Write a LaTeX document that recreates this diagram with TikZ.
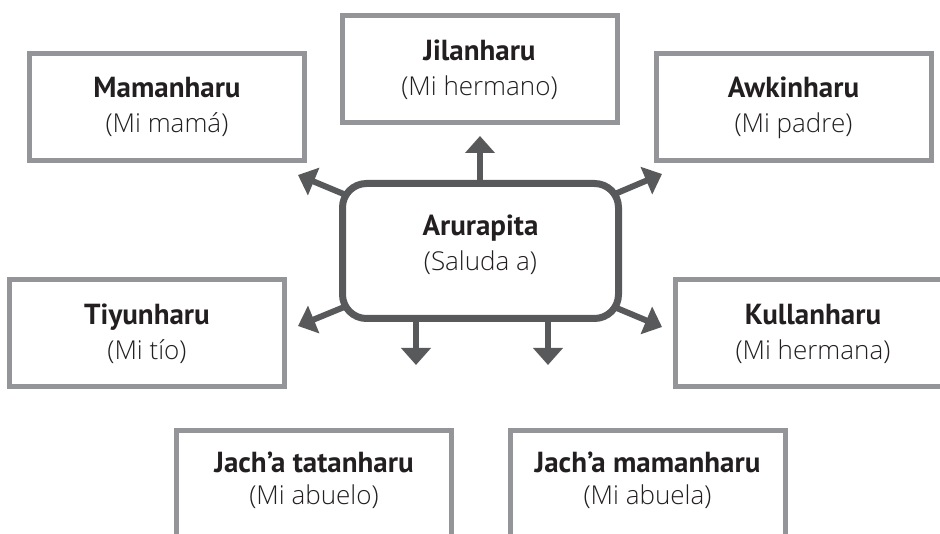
\documentclass[tikz,border=0pt]{standalone}
\usepackage{fontspec}
\setmainfont{PT Sans}
\IfFontExistsTF{Open Sans Light}{\newfontfamily\lightfont{Open Sans Light}}{%
  \IfFontExistsTF{Lato Light}{\newfontfamily\lightfont{Lato Light}}{%
    \newfontfamily\lightfont{PT Sans}}}
\usetikzlibrary{arrows.meta,backgrounds}
\definecolor{boxgray}{RGB}{147,149,152}
\definecolor{hubgray}{RGB}{88,89,91}
\definecolor{txt}{RGB}{35,31,32}
\newcommand\subtxt[1]{{\lightfont\fontsize{26}{35}\selectfont #1}}
\begin{document}
\begin{tikzpicture}[x=1pt,y=-1pt,
  box/.style={draw=boxgray, line width=5pt, fill=white, minimum width=275pt,
    minimum height=107pt, align=center, inner sep=0pt, text=txt,
    font=\fontsize{29}{35}\selectfont},
  hub/.style={draw=hubgray, line width=7pt, fill=white, rounded corners=24pt,
    minimum width=276pt, minimum height=135pt, align=center, inner sep=0pt,
    text=txt, font=\fontsize{29}{35}\selectfont, text depth=17pt},
  arr/.style={draw=hubgray, line width=6pt, -{Triangle[width=29pt,length=17pt]}},
  ]
\useasboundingbox (0,0) rectangle (940,534);
\clip (0,0) rectangle (940,534);
% tips of the arrows
\coordinate (tUL) at (298,175);
\coordinate (tUR) at (662,174);
\coordinate (tLL) at (298,326);
\coordinate (tLR) at (662,327);
\coordinate (tU) at (480,136);
\coordinate (tD1) at (416,365);
\coordinate (tD2) at (548,365);
% boxes
\node[box] (mam) at (167,107) {\textbf{Mamanharu}\\\subtxt{(Mi mamá)}};
\node[box] (jil) at (479.5,69.5) {\textbf{Jilanharu}\\\subtxt{(Mi hermano)}};
\node[box] (awk) at (793.5,107.5) {\textbf{Awkinharu}\\\subtxt{(Mi padre)}};
\node[box] (tiy) at (147,333.5) {\textbf{Tiyunharu}\\\subtxt{(Mi tío)}};
\node[box] (kul) at (813,333.5) {\textbf{Kullanharu}\\\subtxt{(Mi hermana)}};
\node[box, text depth=12pt] (jt) at (314,484.5) {\textbf{Jach’a tatanharu}\\[-3pt]\subtxt{(Mi abuelo)}};
\node[box, text depth=12pt] (jm) at (647.5,484.5) {\textbf{Jach’a mamanharu}\\[-3pt]\subtxt{(Mi abuela)}};
% hub
\node[hub] (c) at (480.5,251) {\textbf{Arurapita}\\\subtxt{(Saluda a)}};
\begin{scope}[on background layer]
\draw[arr] (c.center) -- (tUL);
\draw[arr] (c.center) -- (tUR);
\draw[arr] (c.center) -- (tLL);
\draw[arr] (c.center) -- (tLR);
\draw[arr] (tU |- c.center) -- (tU);
\draw[arr] (tD1 |- c.center) -- (tD1);
\draw[arr] (tD2 |- c.center) -- (tD2);
\end{scope}
\end{tikzpicture}
\end{document}
